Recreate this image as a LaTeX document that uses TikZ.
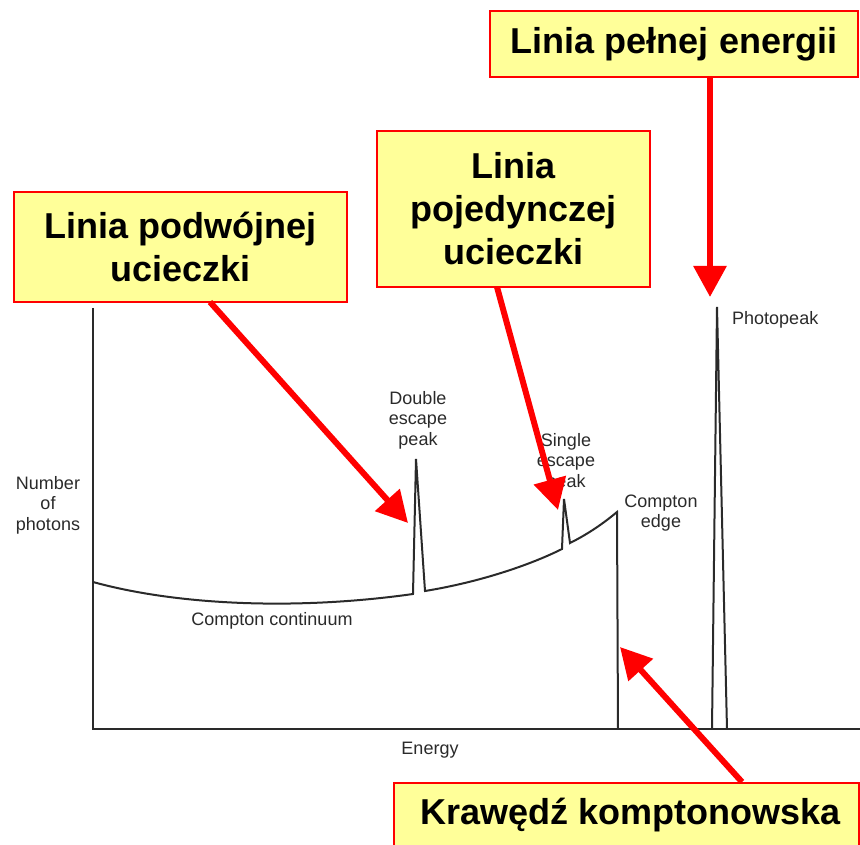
\documentclass[tikz,border=0pt]{standalone}
\usepackage{fontspec}
\setmainfont{Liberation Sans}
\usetikzlibrary{arrows.meta}
\definecolor{boxyellow}{HTML}{FFFF99}
\definecolor{ink}{HTML}{2A2A2A}
\tikzset{
  callout/.style={draw=red, line width=2pt, fill=boxyellow, inner sep=0pt, align=center,
    font=\fontsize{36}{43}\selectfont\bfseries, text=black},
  pointer/.style={draw=red, line width=6pt, -{Triangle[length=31pt,width=32pt]}},
  lbl/.style={font=\fontsize{18}{20.5}\selectfont, text=ink, align=center, inner sep=0pt},
  spectrum/.style={draw=ink, line width=2pt, line join=miter},
  axis/.style={draw=ink, line width=1.5pt}
}
\begin{document}
\begin{tikzpicture}[x=1pt,y=-1pt]
\useasboundingbox (0,0) rectangle (860,845);
% axes
\coordinate (ytop) at (93,308);
\coordinate (orig) at (93,729);
\coordinate (xend) at (860,729);
\draw[axis] (ytop) -- (orig) -- (xend);
% spectrum
\draw[spectrum] (93,582) .. controls (180,606) and (300,610) .. (413,594)
  -- (416,459) -- (425,591)
  .. controls (480,582) and (530,565) .. (562,549)
  -- (564,499) -- (570,543)
  .. controls (590,533) and (605,522) .. (617,512) -- (618,729);
\draw[spectrum] (712,729) -- (717,307) -- (727,729);
% labels
\node[lbl, anchor=west] (photo) at (732,320) {Photopeak};
\node[lbl] (cedge) at (661,513) {Compton\\edge};
\node[lbl] (single) at (566,462) {Single\\escape\\peak};
\node[lbl] (double) at (418,420) {Double\\escape\\peak};
\node[lbl] (nph) at (48,505) {Number\\of\\photons};
\node[lbl] (cont) at (272,621) {Compton continuum};
\node[lbl] (energy) at (430,750) {Energy};
% callout boxes
\node[callout, minimum width=368pt, minimum height=66pt] (b1) at (674,44) {Linia pełnej energii};
\node[callout, minimum width=273pt, minimum height=156pt] (b2) at (513.5,209) {Linia\\pojedynczej\\ucieczki};
\node[callout, minimum width=333pt, minimum height=110pt] (b3) at (180.5,247) {Linia podwójnej\\ucieczki};
\node[callout, minimum width=465pt, minimum height=80pt, anchor=north west] (b4) at (393,782) {};
\node[font=\fontsize{36}{43}\selectfont\bfseries] (b4t) at (631,815) {Krawędź komptonowska};
% arrows
\coordinate (s1) at (710,77);  \coordinate (t1) at (710,297);
\coordinate (s2) at (497,287); \coordinate (t2) at (558,510);
\coordinate (s3) at (210,302); \coordinate (t3) at (408,523);
\coordinate (s4) at (742,782); \coordinate (t4) at (620,647);
\draw[pointer] (s1) -- (t1);
\draw[pointer] (s2) -- (t2);
\draw[pointer] (s3) -- (t3);
\draw[pointer] (s4) -- (t4);
\end{tikzpicture}
\end{document}
